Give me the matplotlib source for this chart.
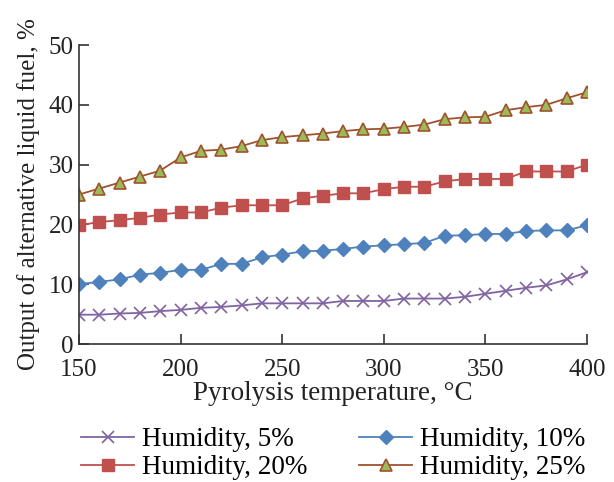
import matplotlib.pyplot as plt
import numpy as np

plt.rcParams["font.family"] = ["Liberation Serif", "DejaVu Serif"]

temperature = np.arange(150, 401, 10)

hum_5 = [4.9, 4.9, 5.1, 5.2, 5.5, 5.7, 6.05, 6.2, 6.45, 6.8, 6.8, 6.8, 6.8,
         7.2, 7.2, 7.2, 7.6, 7.6, 7.6, 7.9, 8.4, 8.9, 9.4, 9.8, 10.8, 12.0]
hum_10 = [10.0, 10.4, 10.8, 11.6, 11.9, 12.4, 12.4, 13.4, 13.4, 14.5, 14.95, 15.5, 15.6,
          15.9, 16.3, 16.5, 16.7, 16.9, 18.1, 18.2, 18.4, 18.4, 18.9, 19.0, 19.0, 19.85]
hum_20 = [19.85, 20.4, 20.7, 21.1, 21.65, 22.0, 22.0, 22.8, 23.2, 23.2, 23.2, 24.35, 24.8,
          25.2, 25.2, 25.9, 26.3, 26.3, 27.2, 27.6, 27.6, 27.6, 28.85, 28.85, 28.85, 30.0]
hum_25 = [25.0, 26.0, 27.0, 28.0, 29.0, 31.2, 32.3, 32.5, 33.1, 34.1, 34.6, 34.9, 35.2,
          35.6, 35.9, 36.0, 36.3, 36.7, 37.6, 37.9, 38.0, 39.1, 39.6, 40.0, 41.1, 42.1]

labels = ["Humidity, 5%", "Humidity, 10%", "Humidity, 20%", "Humidity, 25%"]

fig = plt.figure(figsize=(6.14, 4.82), dpi=100)
ax = fig.add_axes([0.1287, 0.2863, 0.956 - 0.1287, 0.9066 - 0.2863])

l5, = ax.plot(temperature, hum_5, color="#8064A2", lw=1.3, marker="x", ms=8, mew=1.2,
              label=labels[0])
l10, = ax.plot(temperature, hum_10, color="#4F81BD", lw=1.3, marker="D", ms=7,
               label=labels[1])
l20, = ax.plot(temperature, hum_20, color="#C0504D", lw=1.3, marker="s", ms=9,
               label=labels[2])
l25, = ax.plot(temperature, hum_25, color="#A0522D", lw=1.3, marker="^", ms=9,
               mfc="#9BBB59", mec="#A0522D", mew=1.2, label=labels[3])

ax.set_xlim(150, 400)
ax.set_ylim(0, 50)
ax.set_xticks(np.arange(150, 401, 50))
ax.set_yticks(np.arange(0, 51, 10))
ax.spines["top"].set_visible(False)
ax.spines["right"].set_visible(False)
for s in ["left", "bottom"]:
    ax.spines[s].set_color("#333333")
    ax.spines[s].set_linewidth(1.2)
ax.tick_params(direction="in", length=7, width=1.2, color="#333333",
               labelsize=18, labelcolor="#222222")
ax.tick_params(axis="x", pad=11)
ax.tick_params(axis="y", pad=4)

ax.set_xlabel("Pyrolysis temperature, °C", fontsize=19.5, color="#222222", labelpad=0)
ax.set_ylabel("Output of alternative liquid fuel, %", fontsize=18, color="#222222",
              labelpad=6)

fig.legend([l5, l20, l10, l25], [labels[0], labels[2], labels[1], labels[3]],
           ncol=2, loc="upper center", bbox_to_anchor=(0.543, 0.142),
           frameon=False, fontsize=19.5, handlelength=1.95, handletextpad=0.3,
           columnspacing=1.9, labelspacing=0.12, borderpad=0.0)

fig.savefig("out.png", dpi=100)
